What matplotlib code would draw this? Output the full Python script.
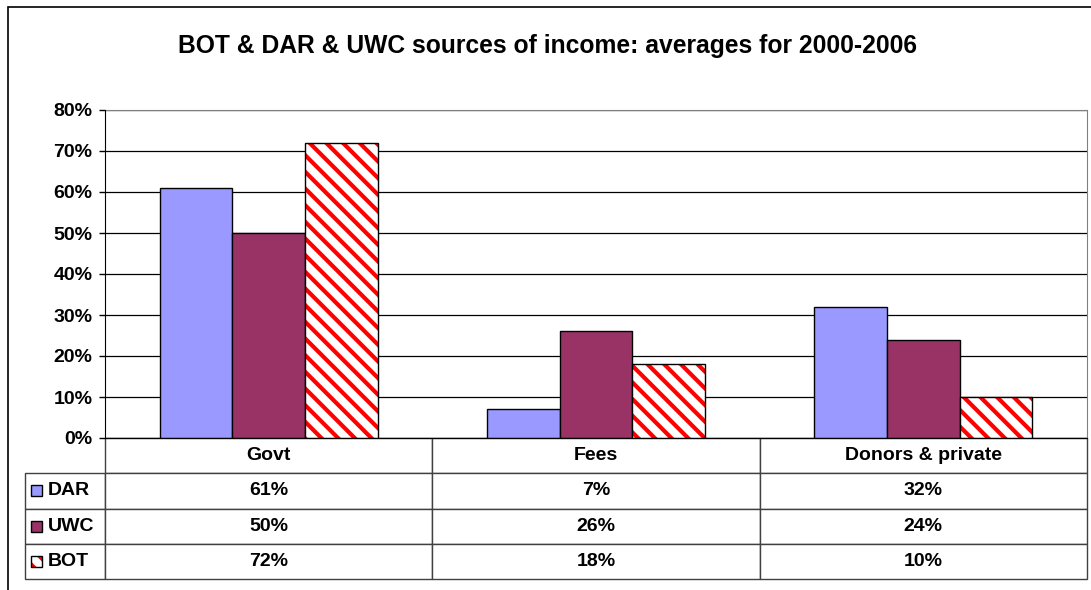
import matplotlib
matplotlib.use('Agg')
import matplotlib.pyplot as plt
from matplotlib.patches import Rectangle
from matplotlib.table import Table
import numpy as np

plt.rcParams['font.family'] = ['Liberation Sans', 'DejaVu Sans']
plt.rcParams['font.weight'] = 'bold'
plt.rcParams['hatch.linewidth'] = 3.0

# data
categories = ['Govt', 'Fees', 'Donors & private']
series_names = ['DAR', 'UWC', 'BOT']
dar = [61, 7, 32]
uwc = [50, 26, 24]
bot = [72, 18, 10]
values = [dar, uwc, bot]
title = 'BOT & DAR & UWC sources of income: averages for 2000-2006'

colors = ['#9999FF', '#993366', 'white']
hatches = [None, None, '\\\\']

W, H = 1091, 590
fig = plt.figure(figsize=(W / 100, H / 100), dpi=100)

# outer chart frame (runs off right/bottom)
fig.patches.append(Rectangle((8 / W, -0.05), 1.1, (H - 7) / H + 0.05,
                             transform=fig.transFigure, fill=False,
                             edgecolor='black', linewidth=1.2))

ax = fig.add_axes([105 / W, (H - 438) / H, 982 / W, 328 / H])

x = np.arange(len(categories))
w = 1 / 4.5
for i in range(3):
    bars = ax.bar(x + (i - 1) * w, values[i], width=w, color=colors[i],
                  edgecolor='black', linewidth=1.0, zorder=3)
    if hatches[i]:
        for b in bars:
            b.set_hatch(hatches[i])
            b._hatch_color = matplotlib.colors.to_rgba('red')

ax.set_xlim(-0.5, 2.5)
ax.set_ylim(0, 80)
ax.set_yticks(range(0, 81, 10))
ax.set_yticklabels([f'{t}%' for t in range(0, 81, 10)], fontsize=14,
                   fontweight='bold')
ax.tick_params(axis='y', direction='out', length=4, width=1, pad=5)
ax.set_xticks([])
ax.yaxis.grid(True, color='black', linewidth=0.9, zorder=0)
ax.set_axisbelow(True)
for s in ['top', 'right']:
    ax.spines[s].set_color('#808080')
for s in ['left', 'bottom']:
    ax.spines[s].set_color('black')
    ax.spines[s].set_zorder(4)

fig.text(548 / W, (H - 46) / H, title, ha='center', va='center',
         fontsize=17.7, fontweight='bold')

# data table under the axis
lab_w = 80 / 982
col_w = (1 - 0) / 3
tbl_bottom = -141 / 328
tbl = Table(ax, bbox=[-lab_w, tbl_bottom, 1 + lab_w, -tbl_bottom])
nrows = 4
rh = 1.0 / nrows
for j, c in enumerate(categories):
    tbl.add_cell(0, j + 1, width=col_w, height=rh, text=c, loc='center',
                 edgecolor='#404040')
corner = tbl.add_cell(0, 0, width=lab_w, height=rh, text='')
corner.visible_edges = ''
for i, name in enumerate(series_names):
    tbl.add_cell(i + 1, 0, width=lab_w, height=rh, text='',
                 edgecolor='#404040')
    for j in range(len(categories)):
        tbl.add_cell(i + 1, j + 1, width=col_w, height=rh,
                     text=f'{values[i][j]}%', loc='center',
                     edgecolor='#404040')
tbl.auto_set_font_size(False)
tbl.set_fontsize(14)
for cell in tbl.get_celld().values():
    cell.get_text().set_fontweight('bold')
    cell.set_linewidth(1.0)
ax.add_table(tbl)

# legend keys in the row label cells
row_h = -tbl_bottom / nrows
kw, kh = 11 / 982, 11 / 328
for i, name in enumerate(series_names):
    yc = tbl_bottom + (nrows - 1.5 - i) * row_h
    key = Rectangle((-lab_w + 6 / 982, yc - kh / 2), kw, kh,
                    transform=ax.transAxes, clip_on=False,
                    facecolor=colors[i], edgecolor='black', linewidth=1.0,
                    zorder=5)
    if hatches[i]:
        key.set_hatch(hatches[i])
        key._hatch_color = matplotlib.colors.to_rgba('red')
    ax.add_patch(key)
    ax.text(-lab_w + 23 / 982, yc, name, transform=ax.transAxes,
            ha='left', va='center', fontsize=14, fontweight='bold')

fig.savefig('out.png', dpi=100)
